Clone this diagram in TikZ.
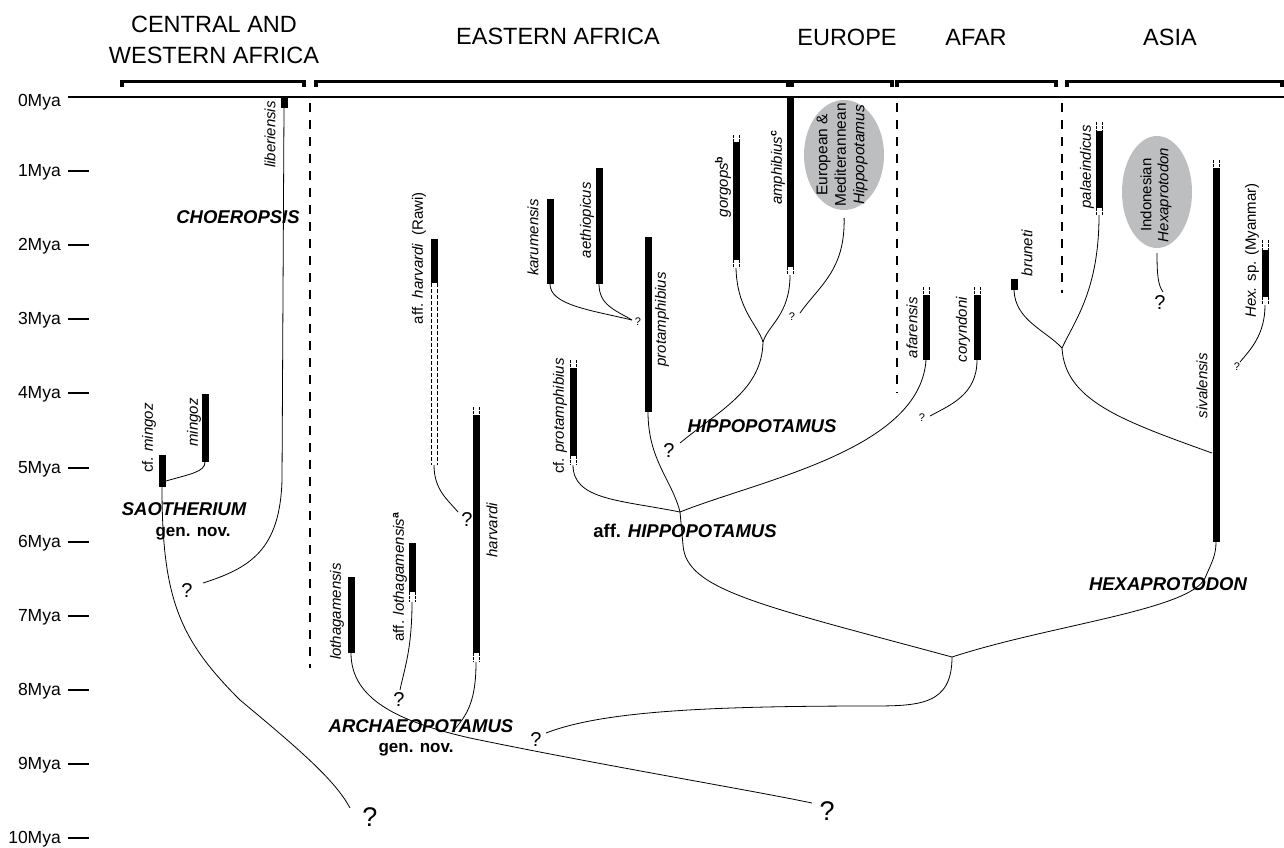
\documentclass[tikz,border=0pt]{standalone}
\usepackage{fontspec}
\setmainfont{Liberation Sans}
\usetikzlibrary{shapes.geometric}
\definecolor{ovalgrey}{RGB}{189,190,192}

\begin{document}
\begin{tikzpicture}[x=1pt,y=1pt,yscale=-1,
  every node/.style={inner sep=0pt},
  taxon/.style={rotate=90, anchor=east, font=\fontsize{15}{18}\selectfont\itshape},
  genus/.style={anchor=base, font=\fontsize{18.5}{22}\selectfont\bfseries\itshape},
  gennov/.style={anchor=base, font=\fontsize{17}{20}\selectfont\bfseries},
  area/.style={anchor=base, font=\fontsize{23.5}{28}\selectfont},
  mya/.style={anchor=base east, font=\fontsize{17.5}{20}\selectfont},
  qbig/.style={font=\fontsize{27}{30}\selectfont},
  qmid/.style={font=\fontsize{20}{24}\selectfont},
  qsmall/.style={font=\fontsize{11}{13}\selectfont},
  taxonrange/.style={line width=7pt},
  rangeext/.style={line width=0.6pt, dash pattern=on 2.5pt off 1.5pt},
  branch/.style={line width=0.8pt},
  areabracket/.style={line width=3.5pt},
  divider/.style={line width=2.2pt, dash pattern=on 9pt off 8pt},
  oval/.style={ellipse, fill=ovalgrey},
  ovaltext/.style={rotate=90, align=center, font=\fontsize{15.5}{18.5}\selectfont}
]
\useasboundingbox (0,0) rectangle (1284,847);

%Time axis
\draw[line width=1.5pt] (68,97) -- (1284,97);
\node[mya] (t0) at (61,106) {0Mya};
\foreach \t in {1,...,10}{
  \draw[line width=2pt] (68,{97+74.1*\t}) -- (89,{97+74.1*\t});
  \node[mya] (t\t) at (61,{102.5+74.1*\t}) {\t Mya};
}

%Areas
\draw[areabracket] (122,87) |- (304,81.5) -- (304,87);
\draw[areabracket] (316,87) |- (788,81.5) -- (788,87);
\draw[areabracket] (792,87) |- (892,81.5) -- (892,87);
\draw[areabracket] (897,87) |- (1056,81.5) -- (1056,87);
\draw[areabracket] (1067,87) |- (1282,81.5) -- (1282,87);
\node[area] (cwafrica1) at (214,32) {CENTRAL AND};
\node[area] (cwafrica2) at (214,63) {WESTERN AFRICA};
\node[area] (eafrica) at (558,44) {EASTERN AFRICA};
\node[area] (europe) at (847,45) {EUROPE};
\node[area] (afar) at (976,45) {AFAR};
\node[area] (asia) at (1170,45) {ASIA};

\draw[divider] (310,103) -- (310,668);
\draw[divider] (897,103) -- (897,393);
\draw[divider] (1062,103) -- (1062,293);

%Ranges (uncertain ends: two dashed sides)
\draw[taxonrange] (284,97) -- (284,108) coordinate (liberiensis);
\draw[taxonrange] (162,455) -- (162,487) coordinate (cfmingoz);
\coordinate (cfmingoz-r) at (166,481);
\draw[taxonrange] (205,394) -- (205,462) coordinate (mingoz);
\draw[taxonrange] (351,577) -- (351,653) coordinate (lothagamensis);
\draw[taxonrange] (412,543) -- (412,592);
\draw[rangeext] (412,592) ++(-3.2,0) -- ++(0,10) ++(6.4,-10) -- ++(0,10);
\coordinate (afflothagamensis) at (412,602);
\draw[taxonrange] (434,239) -- (434,283);
\draw[rangeext, dash pattern=on 4pt off 2pt] (434,283) ++(-3.2,0) -- ++(0,182) ++(6.4,-182) -- ++(0,182);
\coordinate (affharvardi) at (434,465);
\draw[rangeext] (476,407) ++(-3.2,0) -- ++(0,8) ++(6.4,-8) -- ++(0,8);
\draw[taxonrange] (476,415) -- (476,653);
\draw[rangeext] (476,653) ++(-3.2,0) -- ++(0,9) ++(6.4,-9) -- ++(0,9);
\coordinate (harvardi) at (476,662);
\draw[taxonrange] (550,199) -- (550,284) coordinate (karumensis);
\draw[taxonrange] (599,168) -- (599,284) coordinate (aethiopicus);
\draw[rangeext] (573,360) ++(-3.2,0) -- ++(0,8) ++(6.4,-8) -- ++(0,8);
\draw[taxonrange] (573,368) -- (573,456);
\draw[rangeext] (573,456) ++(-3.2,0) -- ++(0,9) ++(6.4,-9) -- ++(0,9);
\coordinate (cfprotamphibius) at (573,465);
\draw[taxonrange] (648,237) -- (648,412) coordinate (protamphibius);
\draw[rangeext] (736,135) ++(-3.2,0) -- ++(0,7) ++(6.4,-7) -- ++(0,7);
\draw[taxonrange] (736,142) -- (736,260);
\draw[rangeext] (736,260) ++(-3.2,0) -- ++(0,8) ++(6.4,-8) -- ++(0,8);
\coordinate (gorgops) at (736,268);
\draw[taxonrange] (790,97) -- (790,267);
\draw[rangeext] (790,267) ++(-3.2,0) -- ++(0,8) ++(6.4,-8) -- ++(0,8);
\coordinate (amphibius) at (790,275);
\draw[rangeext] (926,287) ++(-3.2,0) -- ++(0,8) ++(6.4,-8) -- ++(0,8);
\draw[taxonrange] (926,295) -- (926,360) coordinate (afarensis);
\draw[rangeext] (977,287) ++(-3.2,0) -- ++(0,8) ++(6.4,-8) -- ++(0,8);
\draw[taxonrange] (977,295) -- (977,360) coordinate (coryndoni);
\draw[taxonrange] (1014,279) -- (1014,290) coordinate (bruneti);
\draw[rangeext] (1099,122) ++(-3.2,0) -- ++(0,9) ++(6.4,-9) -- ++(0,9);
\draw[taxonrange] (1099,131) -- (1099,208);
\draw[rangeext] (1099,208) ++(-3.2,0) -- ++(0,7) ++(6.4,-7) -- ++(0,7);
\coordinate (palaeindicus) at (1099,215);
\draw[rangeext] (1216,160) ++(-3.2,0) -- ++(0,8) ++(6.4,-8) -- ++(0,8);
\draw[taxonrange] (1216,168) -- (1216,542) coordinate (sivalensis);
\coordinate (sivalensis-m) at (1212,453);
\draw[rangeext] (1265,240) ++(-3.2,0) -- ++(0,10) ++(6.4,-10) -- ++(0,10);
\draw[taxonrange] (1265,250) -- (1265,297);
\draw[rangeext] (1265,297) ++(-3.2,0) -- ++(0,8) ++(6.4,-8) -- ++(0,8);
\coordinate (hexsp) at (1265,305);

%Ovals
\node[oval, minimum width=80pt, minimum height=110pt] (euro) at (844,155) {};
\node[ovaltext] (eurotext) at (842,155) {European \&\\Mediterannean\\\textit{Hippopotamus}};
\node[oval, minimum width=70pt, minimum height=112pt] (indo) at (1157,192) {};
\node[ovaltext, font=\fontsize{15}{17}\selectfont] (indotext) at (1156,195) {Indonesian\\\textit{Hexaprotodon}};

%Junctions and free ends
\coordinate (hippo-j) at (763,342);
\coordinate (affhippo-j) at (680,512);
\coordinate (root-j) at (952,657);
\coordinate (asia-j) at (1062,348);
\coordinate (archaeo-j) at (452,732);
\coordinate (q1-end) at (203,583);
\coordinate (q2-end) at (350,808);
\coordinate (q3-end) at (400,690);
\coordinate (q4-end) at (546,733);
\coordinate (q5-end) at (812,803);
\coordinate (q6-end) at (458,512);
\coordinate (q7-end) at (632,320);
\coordinate (q8-end) at (680,443);
\coordinate (q9-end) at (800,313);
\coordinate (q10-end) at (930,416);
\coordinate (q11-end) at (1163,292);
\coordinate (q12-end) at (1240,362);

%Branches
\draw[branch] (liberiensis) -- (282,480) .. controls (280,550) and (250,568) .. (q1-end);
\draw[branch] (mingoz) .. controls (205,472) and (190,474) .. (cfmingoz-r);
\draw[branch] (cfmingoz) .. controls (162,600) and (180,640) .. (240,700) .. controls (300,750) and (335,780) .. (q2-end);
\draw[branch] (lothagamensis) .. controls (351,700) and (400,722) .. (470,738) .. controls (600,765) and (750,790) .. (q5-end);
\draw[branch] (afflothagamensis) .. controls (412,650) and (404,670) .. (q3-end);
\draw[branch] (harvardi) .. controls (476,700) and (468,715) .. (archaeo-j);
\draw[branch] (affharvardi) .. controls (434,490) and (448,500) .. (q6-end);
\draw[branch] (root-j) .. controls (952,705) and (920,706) .. (870,706) .. controls (700,706) and (600,712) .. (q4-end);
\draw[branch] (affhippo-j) -- (683,545) .. controls (686,590) and (760,605) .. (root-j);
\draw[branch] (root-j) .. controls (1050,625) and (1190,610) .. (1205,578) .. controls (1212,562) and (1216,555) .. (sivalensis);
\draw[branch] (protamphibius) .. controls (648,460) and (672,480) .. (affhippo-j);
\draw[branch] (cfprotamphibius) .. controls (573,500) and (620,500) .. (affhippo-j);
\draw[branch] (affhippo-j) .. controls (760,480) and (920,450) .. (afarensis);
\draw[branch] (gorgops) .. controls (737,310) and (758,325) .. (hippo-j);
\draw[branch] (amphibius) .. controls (790,315) and (768,325) .. (hippo-j);
\draw[branch] (hippo-j) .. controls (762,390) and (720,410) .. (q8-end);
\draw[branch, shorten <=8pt] (euro.south) .. controls (845,270) and (820,285) .. (q9-end);
\draw[branch] (karumensis) .. controls (550,305) and (590,310) .. (q7-end);
\draw[branch] (aethiopicus) .. controls (599,305) and (615,310) .. (q7-end);
\draw[branch] (coryndoni) .. controls (977,395) and (950,405) .. (q10-end);
\draw[branch] (bruneti) .. controls (1015,320) and (1045,330) .. (asia-j);
\draw[branch] (palaeindicus) .. controls (1099,290) and (1075,320) .. (asia-j);
\draw[branch] (asia-j) .. controls (1065,400) and (1120,420) .. (sivalensis-m);
\draw[branch] (hexsp) .. controls (1265,335) and (1250,350) .. (q12-end);
\draw[branch, shorten <=5pt] (indo.south) .. controls (1157,275) and (1158,285) .. (q11-end);

%Question marks
\node[qmid] (q1) at (187,591) {?};
\node[qbig] (q2) at (370,817) {?};
\node[qmid] (q3) at (399,700) {?};
\node[qmid] (q4) at (536,740) {?};
\node[qbig] (q5) at (827,811) {?};
\node[qmid] (q6) at (467,520) {?};
\node[qsmall] (q7) at (638,322) {?};
\node[qmid] (q8) at (669,451) {?};
\node[qsmall] (q9) at (792,317) {?};
\node[qsmall] (q10) at (922,418) {?};
\node[qmid] (q11) at (1160,303) {?};
\node[qsmall] (q12) at (1237,367) {?};

%Taxa
\node[taxon] (l-liberiensis) at (270,101) {liberiensis};
\node[taxon] (l-cfmingoz) at (149,403) {{\upshape cf.} mingoz};
\node[taxon] (l-mingoz) at (194,398) {mingoz};
\node[taxon] (l-lothagamensis) at (337,563) {lothagamensis};
\node[taxon] (l-afflothagamensis) at (400,512) {{\upshape aff.} lothagamensis\textsuperscript{\upshape\bfseries a}};
\node[taxon] (l-affharvardi) at (419,192) {{\upshape aff.} harvardi\ \ {\upshape(Rawi)}};
\node[taxon] (l-harvardi) at (492,503) {harvardi};
\node[taxon] (l-karumensis) at (533,199) {karumensis};
\node[taxon] (l-aethiopicus) at (587,182) {aethiopicus};
\node[taxon] (l-cfprotamphibius) at (560,358) {{\upshape cf.} protamphibius};
\node[taxon] (l-protamphibius) at (662,272) {protamphibius};
\node[taxon] (l-gorgops) at (723,156) {gorgops\textsuperscript{\upshape\bfseries b}};
\node[taxon] (l-amphibius) at (778,130) {amphibius\textsuperscript{\upshape\bfseries c}};
\node[taxon] (l-afarensis) at (912,297) {afarensis};
\node[taxon] (l-coryndoni) at (963,297) {coryndoni};
\node[taxon] (l-bruneti) at (1027,230) {bruneti};
\node[taxon] (l-palaeindicus) at (1087,125) {palaeindicus};
\node[taxon] (l-sivalensis) at (1202,353) {sivalensis};
\node[taxon] (l-hexsp) at (1252,183) {Hex. {\upshape sp. (Myanmar)}};

%Genera
\node[genus] (choeropsis) at (238,223) {CHOEROPSIS};
\node[genus] (saotherium) at (184,515) {SAOTHERIUM};
\node[gennov] (saotherium-nov) at (193,536) {gen. nov.};
\node[genus] (archaeopotamus) at (421,732) {ARCHAEOPOTAMUS};
\node[gennov] (archaeopotamus-nov) at (416,752) {gen. nov.};
\node[genus] (hippopotamus) at (762,432) {HIPPOPOTAMUS};
\node[genus] (affhippopotamus) at (685,537) {{\upshape aff.} HIPPOPOTAMUS};
\node[genus] (hexaprotodon) at (1168,590) {HEXAPROTODON};

\end{tikzpicture}
\end{document}
